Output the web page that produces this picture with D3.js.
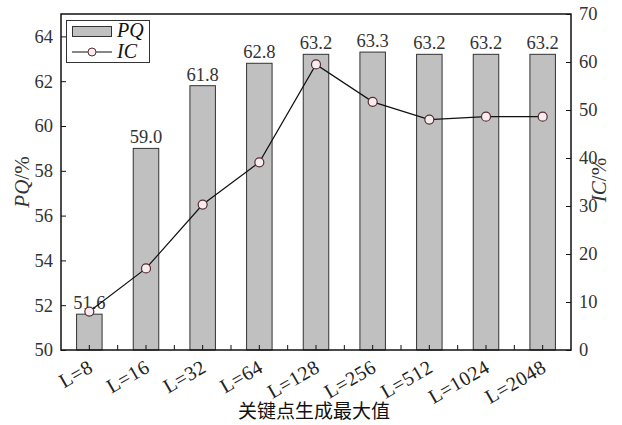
<!DOCTYPE html>
<html><head><meta charset="utf-8">
<script src="https://cdn.jsdelivr.net/npm/d3@7"></script>
<style>body{margin:0;background:#fff}</style>
</head><body>
<svg id="c" width="622" height="425"></svg>
<script>
const categories = ["L=8","L=16","L=32","L=64","L=128","L=256","L=512","L=1024","L=2048"];
const pqValues = [51.6, 59.0, 61.8, 62.8, 63.2, 63.3, 63.2, 63.2, 63.2];
const icValues = [8.0, 17.0, 30.3, 39.1, 59.5, 51.7, 48.0, 48.6, 48.6];
const leftTicks = [50,52,54,56,58,60,62,64];
const rightTicks = [0,10,20,30,40,50,60,70];

const svg = d3.select("#c");
const m = {l:61, r:571, t:14, b:350};
const serif = "'Liberation Serif','DejaVu Serif',serif";
const txtCol = "#333";

const x = d3.scaleBand().domain(categories).range([m.l, m.r]).paddingInner(0.55).paddingOuter(0.275);
const yL = d3.scaleLinear().domain([50,65]).range([m.b, m.t]);
const yR = d3.scaleLinear().domain([0,70]).range([m.b, m.t]);

// bars
svg.append("g").selectAll("rect").data(categories).join("rect")
  .attr("x", d=>x(d)).attr("width", x.bandwidth())
  .attr("y", (d,i)=>yL(pqValues[i])).attr("height",(d,i)=>m.b-yL(pqValues[i]))
  .attr("fill","#c0c0c0").attr("stroke","#333").attr("stroke-width",1);

// bar labels
svg.append("g").selectAll("text").data(categories).join("text")
  .attr("x", d=>x(d)+x.bandwidth()/2).attr("y",(d,i)=>yL(pqValues[i])-5)
  .attr("text-anchor","middle").style("font-family",serif).attr("font-size",18.5).attr("fill",txtCol)
  .text((d,i)=>pqValues[i].toFixed(1));

// frame
svg.append("rect").attr("x",m.l).attr("y",m.t).attr("width",m.r-m.l).attr("height",m.b-m.t)
  .attr("fill","none").attr("stroke","#111").attr("stroke-width",1.5);

// left axis
const gL = svg.append("g").attr("transform",`translate(${m.l},0)`)
  .call(d3.axisLeft(yL).tickValues(leftTicks).tickSizeInner(-5).tickSizeOuter(0).tickPadding(8));
// right axis
const gR = svg.append("g").attr("transform",`translate(${m.r},0)`)
  .call(d3.axisRight(yR).tickValues(rightTicks).tickSizeInner(-5).tickSizeOuter(0).tickPadding(8));
[gL,gR].forEach(g=>{
  g.select(".domain").remove();
  g.selectAll("line").attr("stroke","#111");
  g.selectAll("text").style("font-family",serif).attr("font-size",18.5).attr("fill",txtCol);
});

// x ticks (centers and boundaries)
const step = x.step();
const xt = [];
categories.forEach((c,i)=>{ xt.push(x(c)+x.bandwidth()/2); if(i>0) xt.push(x(c)+x.bandwidth()/2-step/2); });
svg.append("g").selectAll("line").data(xt).join("line")
  .attr("x1",d=>d).attr("x2",d=>d).attr("y1",m.b).attr("y2",m.b-5).attr("stroke","#111");

// x labels
svg.append("g").selectAll("text").data(categories).join("text")
  .attr("transform", d=>`translate(${x(d)+x.bandwidth()/2+5},${m.b+21}) rotate(-30)`)
  .attr("text-anchor","end").style("font-family",serif).style("letter-spacing","0.5px")
  .attr("font-size",20).attr("fill","#222")
  .text(d=>d);

// IC line
const line = d3.line().x((d,i)=>x(categories[i])+x.bandwidth()/2).y(d=>yR(d));
svg.append("path").datum(icValues).attr("d",line).attr("fill","none").attr("stroke","#111").attr("stroke-width",1.2);
svg.append("g").selectAll("circle").data(icValues).join("circle")
  .attr("cx",(d,i)=>x(categories[i])+x.bandwidth()/2).attr("cy",d=>yR(d)).attr("r",4.5)
  .attr("fill","#f6eeee").attr("stroke","#5a2a35").attr("stroke-width",1.2);

// axis titles
const tl = svg.append("text").attr("transform","translate(29,182) rotate(-90)").attr("text-anchor","middle")
  .style("font-family",serif).attr("font-size",21).attr("fill",txtCol);
tl.append("tspan").attr("font-style","italic").text("PQ");
tl.append("tspan").text("/%");
const tr = svg.append("text").attr("transform","translate(606,180) rotate(-90)").attr("text-anchor","middle")
  .style("font-family",serif).attr("font-size",21).attr("fill",txtCol);
tr.append("tspan").attr("font-style","italic").text("IC");
tr.append("tspan").text("/%");

svg.append("text").attr("x",314).attr("y",418).attr("text-anchor","middle")
  .style("font-family","'Noto Sans CJK SC',sans-serif").attr("font-size",19).attr("fill","#111").text("关键点生成最大值");

// legend
const lg = svg.append("g");
lg.append("rect").attr("x",66.5).attr("y",20.5).attr("width",83).attr("height",42).attr("fill","#fff").attr("stroke","#333");
lg.append("rect").attr("x",72.5).attr("y",26.5).attr("width",39).attr("height",10).attr("fill","#c0c0c0").attr("stroke","#333");
lg.append("line").attr("x1",72).attr("x2",112).attr("y1",52).attr("y2",52).attr("stroke","#111").attr("stroke-width",1.2);
lg.append("circle").attr("cx",92).attr("cy",52).attr("r",4).attr("fill","#f6eeee").attr("stroke","#5a2a35");
lg.append("text").attr("x",117).attr("y",37).style("font-family",serif).attr("font-style","italic").attr("font-size",20).attr("fill","#111").text("PQ");
lg.append("text").attr("x",117).attr("y",58).style("font-family",serif).attr("font-style","italic").attr("font-size",20).attr("fill","#111").text("IC");
</script>
</body></html>
